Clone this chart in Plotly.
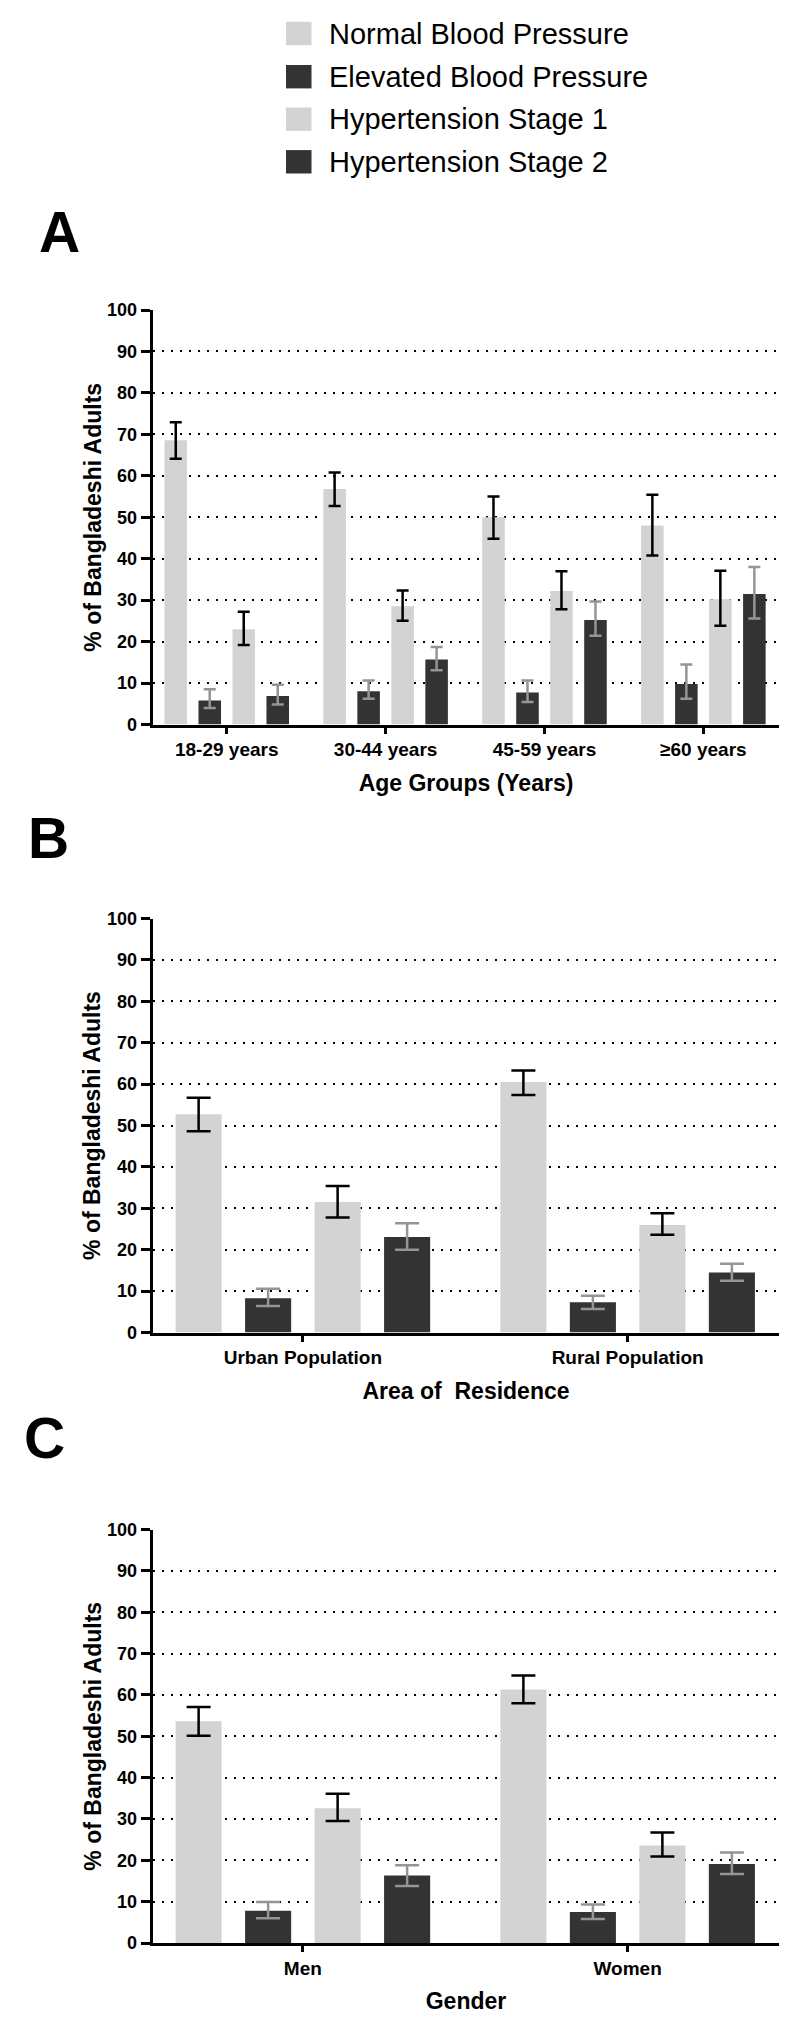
import plotly.graph_objects as go

# ---------------- data ----------------
series_names = ["Normal Blood Pressure", "Elevated Blood Pressure",
                "Hypertension Stage 1", "Hypertension Stage 2"]

# Panel A: age groups
age_groups = ["18-29 years", "30-44 years", "45-59 years", "≥60 years"]
age_normal = [68.6, 56.8, 50.0, 48.0]
age_normal_lo = [64.1, 52.7, 44.8, 40.8]
age_normal_hi = [72.9, 60.8, 55.0, 55.4]
age_elevated = [5.8, 8.0, 7.7, 9.8]
age_elevated_lo = [4.0, 6.2, 5.4, 6.2]
age_elevated_hi = [8.5, 10.6, 10.6, 14.5]
age_stage1 = [23.0, 28.5, 32.2, 30.2]
age_stage1_lo = [19.2, 25.0, 27.8, 23.8]
age_stage1_hi = [27.2, 32.3, 37.0, 37.1]
age_stage2 = [6.9, 15.7, 25.2, 31.5]
age_stage2_lo = [4.8, 13.1, 21.4, 25.6]
age_stage2_hi = [9.6, 18.7, 29.7, 38.0]

# Panel B: area of residence
residence = ["Urban Population", "Rural Population"]
res_normal = [52.7, 60.5]
res_normal_lo = [48.6, 57.4]
res_normal_hi = [56.7, 63.3]
res_elevated = [8.3, 7.3]
res_elevated_lo = [6.4, 5.7]
res_elevated_hi = [10.6, 8.9]
res_stage1 = [31.5, 26.0]
res_stage1_lo = [27.8, 23.6]
res_stage1_hi = [35.4, 28.8]
res_stage2 = [23.1, 14.5]
res_stage2_lo = [20.0, 12.5]
res_stage2_hi = [26.4, 16.6]

# Panel C: gender
gender = ["Men", "Women"]
gen_normal = [53.6, 61.3]
gen_normal_lo = [50.1, 58.0]
gen_normal_hi = [57.1, 64.7]
gen_elevated = [7.8, 7.5]
gen_elevated_lo = [6.0, 5.8]
gen_elevated_hi = [9.9, 9.3]
gen_stage1 = [32.6, 23.6]
gen_stage1_lo = [29.5, 20.9]
gen_stage1_hi = [36.1, 26.7]
gen_stage2 = [16.3, 19.1]
gen_stage2_lo = [13.8, 16.7]
gen_stage2_hi = [18.8, 21.9]

y_ticks = [0, 10, 20, 30, 40, 50, 60, 70, 80, 90, 100]
y_title = "% of Bangladeshi Adults"
x_titles = ["Age Groups (Years)", "Area of  Residence", "Gender"]
panel_letters = ["A", "B", "C"]

# ---------------- styling ----------------
W, H = 800, 2036
LIGHT = "#d3d3d3"
DARK = "#333333"
ERR_DARK = "#000000"
ERR_LIGHT = "#959595"
FONT = "Liberation Sans"

bar_colors = [LIGHT, DARK, LIGHT, DARK]
err_colors = [ERR_DARK, ERR_LIGHT, ERR_DARK, ERR_LIGHT]


def px_x(x):
    return x / W


def px_y(y):
    return 1 - y / H


panels = [
    dict(cats=age_groups,
         vals=[age_normal, age_elevated, age_stage1, age_stage2],
         los=[age_normal_lo, age_elevated_lo, age_stage1_lo, age_stage2_lo],
         his=[age_normal_hi, age_elevated_hi, age_stage1_hi, age_stage2_hi],
         top=310, bottom=724.5, rng=[-0.466, 3.478], cap=6),
    dict(cats=residence,
         vals=[res_normal, res_elevated, res_stage1, res_stage2],
         los=[res_normal_lo, res_elevated_lo, res_stage1_lo, res_stage2_lo],
         his=[res_normal_hi, res_elevated_hi, res_stage1_hi, res_stage2_hi],
         top=918.6, bottom=1332.5, rng=[-0.4624, 1.467], cap=12),
    dict(cats=gender,
         vals=[gen_normal, gen_elevated, gen_stage1, gen_stage2],
         los=[gen_normal_lo, gen_elevated_lo, gen_stage1_lo, gen_stage2_lo],
         his=[gen_normal_hi, gen_elevated_hi, gen_stage1_hi, gen_stage2_hi],
         top=1529.5, bottom=1943, rng=[-0.4624, 1.467], cap=12),
]

fig = go.Figure()
layout = dict(
    width=W, height=H,
    margin=dict(l=0, r=0, t=0, b=0),
    paper_bgcolor="white", plot_bgcolor="white",
    barmode="group", bargap=0.144, bargroupgap=0.337,
    showlegend=False,
    font=dict(family=FONT, color="black"),
)

x_left, x_right = 152.7, 779.3

for i, p in enumerate(panels):
    sfx = "" if i == 0 else str(i + 1)
    for k in range(4):
        vals = p["vals"][k]
        plus = [h - v for h, v in zip(p["his"][k], vals)]
        minus = [v - l for v, l in zip(vals, p["los"][k])]
        fig.add_trace(go.Bar(
            x=p["cats"], y=vals, name=series_names[k],
            marker=dict(color=bar_colors[k], line=dict(width=0)),
            error_y=dict(type="data", symmetric=False, array=plus,
                         arrayminus=minus, color=err_colors[k],
                         thickness=2.5, width=p["cap"]),
            xaxis="x" + sfx, yaxis="y" + sfx,
            showlegend=False,
        ))
    layout["xaxis" + sfx] = dict(
        domain=[px_x(x_left), px_x(x_right)],
        anchor="y" + sfx, type="category", range=p["rng"],
        showline=True, linecolor="black", linewidth=3,
        ticks="outside", ticklen=6, tickwidth=2.5, tickcolor="black",
        tickfont=dict(family=FONT, size=19, weight="bold", color="black"),
        showgrid=False, zeroline=False, automargin=False,
        title=dict(text=x_titles[i], standoff=16,
                   font=dict(family=FONT, size=23, weight="bold", color="black")),
    )
    layout["yaxis" + sfx] = dict(
        domain=[px_y(p["bottom"]), px_y(p["top"])],
        anchor="x" + sfx, range=[0, 100], tickvals=y_ticks,
        showline=True, linecolor="black", linewidth=3,
        ticks="outside", ticklen=9, tickwidth=2.5, tickcolor="black",
        tickfont=dict(family=FONT, size=18, weight="bold", color="black"),
        showgrid=True, gridcolor="black", gridwidth=2, griddash="2px,7px",
        zeroline=False, automargin=False,
        title=dict(text=y_title, standoff=0,
                   font=dict(family=FONT, size=23, weight="bold", color="black")),
    )

annotations = []
shapes = []
# panel letters
letter_pos = [(59.7, 231.7), (48, 838), (44, 1438)]
for letter, (lx, ly) in zip(panel_letters, letter_pos):
    annotations.append(dict(
        text=letter, x=px_x(lx), y=px_y(ly), xref="paper", yref="paper",
        xanchor="center", yanchor="middle", showarrow=False,
        font=dict(family=FONT, size=57, weight="bold", color="black")))

# legend (drawn manually to match big square swatches)
row_centers = [33.5, 76.7, 119.2, 161.8]
for k, cy in enumerate(row_centers):
    shapes.append(dict(
        type="rect", xref="paper", yref="paper",
        x0=px_x(286), x1=px_x(311.5), y0=px_y(cy - 11.7), y1=px_y(cy + 11.7),
        fillcolor=bar_colors[k], line=dict(width=0)))
    annotations.append(dict(
        text=series_names[k], x=px_x(327), y=px_y(cy), xref="paper", yref="paper",
        xanchor="left", yanchor="middle", showarrow=False,
        font=dict(family=FONT, size=29, color="black")))

layout["annotations"] = annotations
layout["shapes"] = shapes
fig.update_layout(**layout)

fig.write_html(
    "out.html",
    config={"displayModeBar": False},
    post_script="document.body.style.margin='0';document.body.style.padding='0';",
)
